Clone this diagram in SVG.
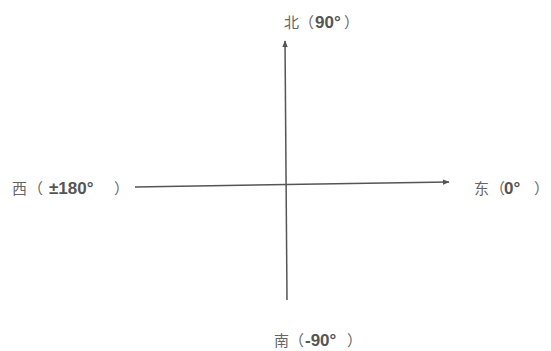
<svg xmlns="http://www.w3.org/2000/svg" width="551" height="351" viewBox="0 0 551 351">
<style>
text{font-family:"Noto Sans CJK SC","Liberation Sans",sans-serif;font-size:15px;fill:#666}
.b{font-family:"Liberation Sans","Noto Sans CJK SC",sans-serif;font-weight:bold;font-size:17px;fill:#555}
.ax{stroke:#555;stroke-width:1.5;fill:none}
</style>
<defs>
<marker id="ah" viewBox="0 0 10 10" refX="9" refY="5" markerWidth="7" markerHeight="7" orient="auto" markerUnits="userSpaceOnUse">
<path d="M0,1 L10,5 L0,9 Z" fill="#555"/>
</marker>
</defs>
<rect width="551" height="351" fill="#fff"/>
<g id="connectors">
<line class="ax" x1="135" y1="187" x2="449" y2="182" marker-end="url(#ah)"/>
<line class="ax" x1="287" y1="300" x2="285" y2="41" marker-end="url(#ah)"/>
</g>
<g id="north"><text y="28"><tspan x="284">北</tspan><tspan x="299">（</tspan><tspan class="b" x="315">90°</tspan><tspan x="344">）</tspan></text></g>
<g id="west"><text y="194"><tspan x="12">西</tspan><tspan x="28">（</tspan><tspan class="b" x="49">±180°</tspan><tspan x="114">）</tspan></text></g>
<g id="east"><text y="194"><tspan x="474">东</tspan><tspan x="490">（</tspan><tspan class="b" x="504">0°</tspan><tspan x="534">）</tspan></text></g>
<g id="south"><text y="346"><tspan x="274">南</tspan><tspan x="289">（</tspan><tspan class="b" x="305">-90°</tspan><tspan x="347">）</tspan></text></g>
</svg>
